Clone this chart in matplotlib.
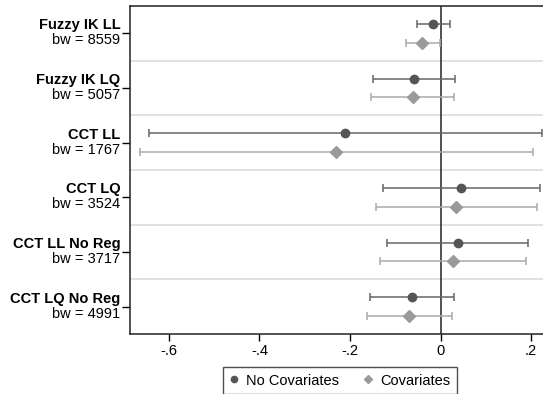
import matplotlib.pyplot as plt
from matplotlib.transforms import blended_transform_factory

plt.rcParams["font.family"] = ["Liberation Sans", "DejaVu Sans"]

# Estimates
models = ["Fuzzy IK LL", "Fuzzy IK LQ", "CCT LL", "CCT LQ", "CCT LL No Reg", "CCT LQ No Reg"]
bandwidths = [8559, 5057, 1767, 3524, 3717, 4991]

nocov_est = [-0.016, -0.058, -0.210, 0.046, 0.038, -0.063]
nocov_lo = [-0.052, -0.149, -0.643, -0.127, -0.118, -0.156]
nocov_hi = [0.020, 0.032, 0.224, 0.220, 0.193, 0.029]

cov_est = [-0.040, -0.061, -0.230, 0.035, 0.027, -0.069]
cov_lo = [-0.076, -0.154, -0.665, -0.143, -0.133, -0.163]
cov_hi = [-0.001, 0.030, 0.205, 0.213, 0.188, 0.026]

W, H = 543, 394
fig = plt.figure(figsize=(W / 100, H / 100), dpi=100)
ax = fig.add_axes([130 / W, 1 - 334 / H, (546 - 130) / W, (334 - 6) / H])

ypos = list(range(len(models)))
off = 0.17

dark = "#555555"
light = "#9a9a9a"

for i in ypos:
    ax.errorbar(nocov_est[i], i - off,
                xerr=[[nocov_est[i] - nocov_lo[i]], [nocov_hi[i] - nocov_est[i]]],
                fmt="o", color=dark, ecolor="#666666", elinewidth=1.1,
                capsize=3, capthick=1.1, markersize=6, zorder=3)
    ax.errorbar(cov_est[i], i + off,
                xerr=[[cov_est[i] - cov_lo[i]], [cov_hi[i] - cov_est[i]]],
                fmt="D", color=light, ecolor="#aaaaaa", elinewidth=1.1,
                capsize=3, capthick=1.1, markersize=6, zorder=3)

# separators between models
for k in range(len(models) - 1):
    ax.axhline(k + 0.5, color="#dcdcdc", lw=1.2, zorder=1)

ax.axvline(0, color="#222222", lw=1.1, zorder=2)

ax.set_xlim(-0.686, 0.233)
ax.set_ylim(len(models) - 0.5, -0.5)
ax.set_xticks([-0.6, -0.4, -0.2, 0, 0.2])
ax.set_xticklabels(["-.6", "-.4", "-.2", "0", ".2"])
ax.tick_params(axis="x", labelsize=10.5, length=5, width=1, pad=2)
ax.set_yticks(ypos)
ax.set_yticklabels([])
ax.tick_params(axis="y", length=6, width=1)

for s in ["left", "bottom", "top"]:
    ax.spines[s].set_linewidth(1.1)
    ax.spines[s].set_color("#222222")
ax.spines["right"].set_visible(False)

trans = blended_transform_factory(ax.transAxes, ax.transData)
for i, (m, bw) in enumerate(zip(models, bandwidths)):
    ax.annotate(m, xy=(0, i), xycoords=trans, xytext=(-7, 3),
                textcoords="offset points", ha="right", va="baseline",
                fontsize=10.5, fontweight="bold")
    ax.annotate(f"bw = {bw}", xy=(0, i), xycoords=trans, xytext=(-7, 0),
                textcoords="offset points", ha="right", va="top", fontsize=10.5)

h1 = plt.Line2D([], [], marker="o", color=dark, ls="none", markersize=4.5)
h2 = plt.Line2D([], [], marker="D", color=light, ls="none", markersize=4.5)
leg = fig.legend([h1, h2], ["No Covariates", "Covariates"], ncol=2,
                 loc="upper center", bbox_to_anchor=(340 / W, 1 - 367 / H),
                 fancybox=False, edgecolor="#222222", fontsize=10.5,
                 handlelength=0.6, handletextpad=0.52, columnspacing=1.7,
                 borderpad=0.45, borderaxespad=0)
leg.get_frame().set_linewidth(1.0)

fig.savefig("out.png", dpi=100)
